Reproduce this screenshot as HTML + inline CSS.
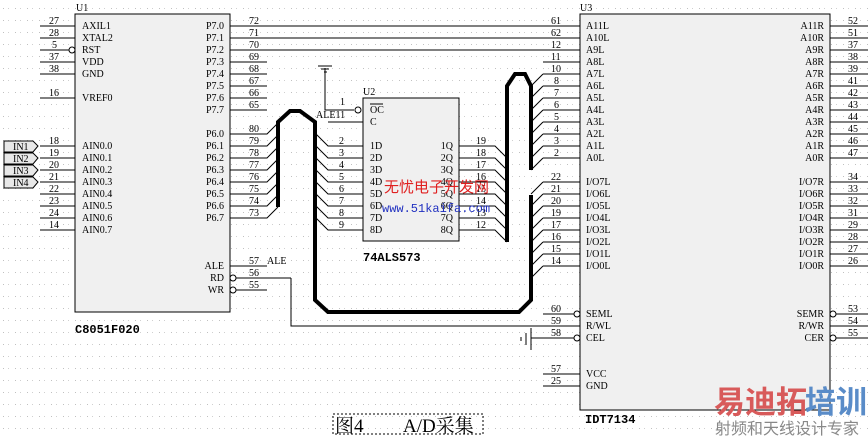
<!DOCTYPE html>
<html><head><meta charset="utf-8"><style>
body{margin:0;background:#fff;}
svg{display:block;}
text{font-family:"Liberation Serif","Noto Serif CJK SC",serif;font-size:10px;fill:#000;}
.r{text-anchor:end;}
</style></head><body>
<svg width="868" height="437" viewBox="0 0 868 437" xmlns="http://www.w3.org/2000/svg">
<defs><pattern id="g" width="12" height="12" patternUnits="userSpaceOnUse" x="3" y="8"><rect x="0" y="0" width="1" height="1" fill="#c0c0c0"/><rect x="5" y="0" width="1" height="1" fill="#d0d0d0"/></pattern></defs>
<rect width="868" height="437" fill="url(#g)"/>
<!-- U1 -->
<rect x="75" y="14" width="155" height="298" fill="#f0f0f0" stroke="#000"/>
<text x="76" y="11">U1</text>
<g stroke="#000" stroke-width="1">
<line x1="40" y1="26" x2="75" y2="26"/><line x1="40" y1="38" x2="75" y2="38"/><line x1="40" y1="50" x2="69" y2="50"/><line x1="40" y1="62" x2="75" y2="62"/><line x1="40" y1="74" x2="75" y2="74"/><line x1="40" y1="98" x2="75" y2="98"/>
<line x1="40" y1="146" x2="75" y2="146"/><line x1="40" y1="158" x2="75" y2="158"/><line x1="40" y1="170" x2="75" y2="170"/><line x1="40" y1="182" x2="75" y2="182"/><line x1="40" y1="194" x2="75" y2="194"/><line x1="40" y1="206" x2="75" y2="206"/><line x1="40" y1="218" x2="75" y2="218"/><line x1="40" y1="230" x2="75" y2="230"/>
<circle cx="72" cy="50" r="3" fill="#fff"/>
<line x1="230" y1="26" x2="580" y2="26"/><line x1="230" y1="38" x2="580" y2="38"/><line x1="230" y1="50" x2="580" y2="50"/>
<line x1="230" y1="62" x2="267" y2="62"/><line x1="230" y1="74" x2="267" y2="74"/><line x1="230" y1="86" x2="267" y2="86"/><line x1="230" y1="98" x2="267" y2="98"/><line x1="230" y1="110" x2="267" y2="110"/>
<path d="M230 134H267L278 123M230 146H267L278 135M230 158H267L278 147M230 170H267L278 159M230 182H267L278 171M230 194H267L278 183M230 206H267L278 195M230 218H267L278 207" fill="none"/>
<line x1="230" y1="266" x2="267" y2="266"/><line x1="236" y1="278" x2="291" y2="278"/><line x1="236" y1="290" x2="267" y2="290"/>
<circle cx="233" cy="278" r="3" fill="#fff"/><circle cx="233" cy="290" r="3" fill="#fff"/>
<path d="M291 278V326H580" fill="none"/>
</g>
<path d="M4 141H33L38 146L33 152H4Z M4 153H33L38 158L33 164H4Z M4 165H33L38 170L33 176H4Z M4 177H33L38 182L33 188H4Z" fill="#e8e8e8" stroke="#000"/>
<text x="13" y="150">IN1</text><text x="13" y="162">IN2</text><text x="13" y="174">IN3</text><text x="13" y="186">IN4</text>
<g>
<text x="49" y="24">27</text><text x="49" y="36">28</text><text x="52" y="48">5</text><text x="49" y="60">37</text><text x="49" y="72">38</text><text x="49" y="96">16</text>
<text x="49" y="144">18</text><text x="49" y="156">19</text><text x="49" y="168">20</text><text x="49" y="180">21</text><text x="49" y="192">22</text><text x="49" y="204">23</text><text x="49" y="216">24</text><text x="49" y="228">14</text>
<text x="82" y="29">AXIL1</text><text x="82" y="41">XTAL2</text><text x="82" y="53">RST</text><text x="82" y="65">VDD</text><text x="82" y="77">GND</text><text x="82" y="101">VREF0</text>
<text x="82" y="149">AIN0.0</text><text x="82" y="161">AIN0.1</text><text x="82" y="173">AIN0.2</text><text x="82" y="185">AIN0.3</text><text x="82" y="197">AIN0.4</text><text x="82" y="209">AIN0.5</text><text x="82" y="221">AIN0.6</text><text x="82" y="233">AIN0.7</text>
<text class="r" x="224" y="29">P7.0</text><text class="r" x="224" y="41">P7.1</text><text class="r" x="224" y="53">P7.2</text><text class="r" x="224" y="65">P7.3</text><text class="r" x="224" y="77">P7.4</text><text class="r" x="224" y="89">P7.5</text><text class="r" x="224" y="101">P7.6</text><text class="r" x="224" y="113">P7.7</text>
<text class="r" x="224" y="137">P6.0</text><text class="r" x="224" y="149">P6.1</text><text class="r" x="224" y="161">P6.2</text><text class="r" x="224" y="173">P6.3</text><text class="r" x="224" y="185">P6.4</text><text class="r" x="224" y="197">P6.5</text><text class="r" x="224" y="209">P6.6</text><text class="r" x="224" y="221">P6.7</text>
<text x="249" y="24">72</text><text x="249" y="36">71</text><text x="249" y="48">70</text><text x="249" y="60">69</text><text x="249" y="72">68</text><text x="249" y="84">67</text><text x="249" y="96">66</text><text x="249" y="108">65</text>
<text x="249" y="132">80</text><text x="249" y="144">79</text><text x="249" y="156">78</text><text x="249" y="168">77</text><text x="249" y="180">76</text><text x="249" y="192">75</text><text x="249" y="204">74</text><text x="249" y="216">73</text>
<text class="r" x="224" y="269">ALE</text><text class="r" x="224" y="281">RD</text><text class="r" x="224" y="293">WR</text>
<text x="249" y="264">57</text><text x="249" y="276">56</text><text x="249" y="288">55</text><text x="267" y="264">ALE</text>
<text x="75" y="333" style="font-weight:bold;font-size:12px;font-family:'Liberation Mono',monospace">C8051F020</text>
</g>
<!-- U2 -->
<rect x="363" y="98" width="96" height="143" fill="#f0f0f0" stroke="#000"/>
<text x="363" y="95">U2</text>
<g stroke="#000">
<path d="M325 68V110H354M318 66H332M321 69H329M324 72H327M328 122H363" fill="none"/>
<circle cx="358" cy="110" r="3" fill="#fff"/>
<path d="M316 134L328 146H363M316 146L328 158H363M316 158L328 170H363M316 170L328 182H363M316 182L328 194H363M316 194L328 206H363M316 206L328 218H363M316 218L328 230H363" fill="none"/>
<path d="M459 146H495L507 158M459 158H495L507 170M459 170H495L507 182M459 182H495L507 194M459 194H495L507 206M459 206H495L507 218M459 218H495L507 230M459 230H495L507 242" fill="none"/>
</g>
<text x="340" y="105">1</text><text x="316" y="118">ALE11</text>
<text x="370" y="113">OC</text><line x1="370" y1="104" x2="383" y2="104" stroke="#000"/><text x="370" y="125">C</text>
<text x="339" y="144">2</text><text x="339" y="156">3</text><text x="339" y="168">4</text><text x="339" y="180">5</text><text x="339" y="192">6</text><text x="339" y="204">7</text><text x="339" y="216">8</text><text x="339" y="228">9</text>
<text x="370" y="149">1D</text><text x="370" y="161">2D</text><text x="370" y="173">3D</text><text x="370" y="185">4D</text><text x="370" y="197">5D</text><text x="370" y="209">6D</text><text x="370" y="221">7D</text><text x="370" y="233">8D</text>
<text class="r" x="453" y="149">1Q</text><text class="r" x="453" y="161">2Q</text><text class="r" x="453" y="173">3Q</text><text class="r" x="453" y="185">4Q</text><text class="r" x="453" y="197">5Q</text><text class="r" x="453" y="209">6Q</text><text class="r" x="453" y="221">7Q</text><text class="r" x="453" y="233">8Q</text>
<text x="476" y="144">19</text><text x="476" y="156">18</text><text x="476" y="168">17</text><text x="476" y="180">16</text><text x="476" y="192">15</text><text x="476" y="204">14</text><text x="476" y="216">13</text><text x="476" y="228">12</text>
<text x="363" y="261" style="font-weight:bold;font-size:12px;font-family:'Liberation Mono',monospace">74ALS573</text>
<!-- buses -->
<g stroke="#000" stroke-width="4" fill="none" stroke-linejoin="miter">
<path d="M278 207V122L290 111H300L315 122V300L328 312H519L531 300V195"/>
<path d="M507 242V86L515 74H525L531 86V170"/>
</g>
<!-- U3 -->
<rect x="580" y="14" width="250" height="396" fill="#f0f0f0" stroke="#000"/>
<text x="580" y="11">U3</text>
<g stroke="#000" fill="none">
<path d="M543 62H580M543 74H580M543 86H580M543 98H580M543 110H580M543 122H580M543 134H580M543 146H580M543 158H580"/>
<path d="M543 74L531 86M543 86L531 98M543 98L531 110M543 110L531 122M543 122L531 134M543 134L531 146M543 146L531 158M543 158L531 170"/>
<path d="M543 182H580M543 194H580M543 206H580M543 218H580M543 230H580M543 242H580M543 254H580M543 266H580"/>
<path d="M543 182L531 194M543 194L531 206M543 206L531 218M543 218L531 230M543 230L531 242M543 242L531 254M543 254L531 266M543 266L531 278"/>
<path d="M543 314H574M531 338H574M531 328V350M526 333V345M521 337V341M543 374H580M543 386H580"/>
<path d="M830 26H868M830 38H868M830 50H868M830 62H868M830 74H868M830 86H868M830 98H868M830 110H868M830 122H868M830 134H868M830 146H868M830 158H868"/>
<path d="M830 182H868M830 194H868M830 206H868M830 218H868M830 230H868M830 242H868M830 254H868M830 266H868"/>
<path d="M836 314H868M830 326H868M836 338H868"/>
</g>
<g fill="#fff" stroke="#000"><circle cx="577" cy="314" r="3"/><circle cx="577" cy="338" r="3"/><circle cx="833" cy="314" r="3"/><circle cx="833" cy="338" r="3"/></g>
<text x="551" y="24">61</text><text x="551" y="36">62</text><text x="551" y="48">12</text><text x="551" y="60">11</text><text x="551" y="72">10</text><text x="554" y="84">8</text><text x="554" y="96">7</text><text x="554" y="108">6</text><text x="554" y="120">5</text><text x="554" y="132">4</text><text x="554" y="144">3</text><text x="554" y="156">2</text>
<text x="551" y="180">22</text><text x="551" y="192">21</text><text x="551" y="204">20</text><text x="551" y="216">19</text><text x="551" y="228">17</text><text x="551" y="240">16</text><text x="551" y="252">15</text><text x="551" y="264">14</text>
<text x="551" y="312">60</text><text x="551" y="324">59</text><text x="551" y="336">58</text><text x="551" y="372">57</text><text x="551" y="384">25</text>
<text x="586" y="29">A11L</text><text x="586" y="41">A10L</text><text x="586" y="53">A9L</text><text x="586" y="65">A8L</text><text x="586" y="77">A7L</text><text x="586" y="89">A6L</text><text x="586" y="101">A5L</text><text x="586" y="113">A4L</text><text x="586" y="125">A3L</text><text x="586" y="137">A2L</text><text x="586" y="149">A1L</text><text x="586" y="161">A0L</text>
<text x="586" y="185">I/O7L</text><text x="586" y="197">I/O6L</text><text x="586" y="209">I/O5L</text><text x="586" y="221">I/O4L</text><text x="586" y="233">I/O3L</text><text x="586" y="245">I/O2L</text><text x="586" y="257">I/O1L</text><text x="586" y="269">I/O0L</text>
<text x="586" y="317">SEML</text><text x="586" y="329">R/WL</text><text x="586" y="341">CEL</text><text x="586" y="377">VCC</text><text x="586" y="389">GND</text>
<text class="r" x="824" y="29">A11R</text><text class="r" x="824" y="41">A10R</text><text class="r" x="824" y="53">A9R</text><text class="r" x="824" y="65">A8R</text><text class="r" x="824" y="77">A7R</text><text class="r" x="824" y="89">A6R</text><text class="r" x="824" y="101">A5R</text><text class="r" x="824" y="113">A4R</text><text class="r" x="824" y="125">A3R</text><text class="r" x="824" y="137">A2R</text><text class="r" x="824" y="149">A1R</text><text class="r" x="824" y="161">A0R</text>
<text class="r" x="824" y="185">I/O7R</text><text class="r" x="824" y="197">I/O6R</text><text class="r" x="824" y="209">I/O5R</text><text class="r" x="824" y="221">I/O4R</text><text class="r" x="824" y="233">I/O3R</text><text class="r" x="824" y="245">I/O2R</text><text class="r" x="824" y="257">I/O1R</text><text class="r" x="824" y="269">I/O0R</text>
<text class="r" x="824" y="317">SEMR</text><text class="r" x="824" y="329">R/WR</text><text class="r" x="824" y="341">CER</text>
<text x="848" y="24">52</text><text x="848" y="36">51</text><text x="848" y="48">37</text><text x="848" y="60">38</text><text x="848" y="72">39</text><text x="848" y="84">41</text><text x="848" y="96">42</text><text x="848" y="108">43</text><text x="848" y="120">44</text><text x="848" y="132">45</text><text x="848" y="144">46</text><text x="848" y="156">47</text>
<text x="848" y="180">34</text><text x="848" y="192">33</text><text x="848" y="204">32</text><text x="848" y="216">31</text><text x="848" y="228">29</text><text x="848" y="240">28</text><text x="848" y="252">27</text><text x="848" y="264">26</text>
<text x="848" y="312">53</text><text x="848" y="324">54</text><text x="848" y="336">55</text>
<text x="585" y="423" style="font-weight:bold;font-size:12px;font-family:'Liberation Mono',monospace">IDT7134</text>
<!-- watermarks -->
<text x="384" y="192" style="fill:#e02020;font-size:15px;font-family:'Liberation Sans','Noto Sans CJK SC',sans-serif">无忧电子开发网</text>
<text x="382" y="212" style="fill:#2030c0;font-size:12px;font-family:'Liberation Mono',monospace">www.51kaifa.com</text>
<text x="714" y="413" style="fill:#d85a5a;font-size:31px;font-weight:bold;font-family:'Noto Sans CJK SC',sans-serif">易迪拓</text><text x="805" y="413" style="fill:#5a8cc8;font-size:31px;font-weight:bold;font-family:'Noto Sans CJK SC',sans-serif">培训</text>
<text x="715" y="434" style="fill:#888;font-size:16px;font-family:'Noto Sans CJK SC',sans-serif">射频和天线设计专家</text>
<!-- caption -->
<rect x="333" y="414" width="150" height="20" fill="none" stroke="#000" stroke-dasharray="2,2"/>
<text x="335" y="432" style="font-size:19px;font-family:'Liberation Serif','Noto Serif CJK SC',serif">图4</text>
<text x="403" y="432" style="font-size:19px;font-family:'Liberation Serif','Noto Serif CJK SC',serif">A/D采集</text>
</svg>
</body></html>
